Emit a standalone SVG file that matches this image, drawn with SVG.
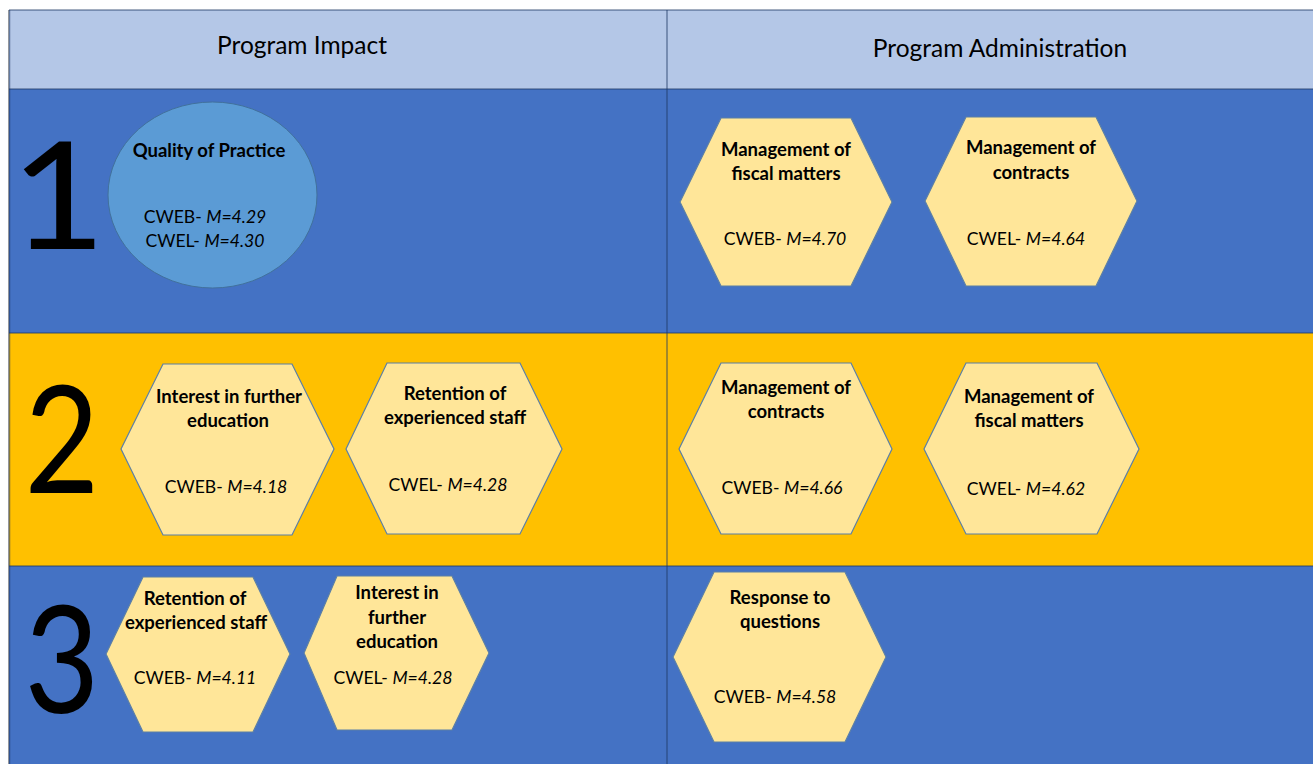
<svg xmlns="http://www.w3.org/2000/svg" width="1313" height="764" viewBox="0 0 1313 764">
<style>
.hdr{font-family:Lato,"Liberation Sans",sans-serif;font-size:24.5px;fill:#000;text-anchor:middle}
.num{font-family:Lato,"Liberation Sans",sans-serif;font-size:150px;fill:#000;text-anchor:middle}
.t{font-family:Lato,"Liberation Sans",sans-serif;font-size:18.5px;font-weight:bold;fill:#000;text-anchor:middle}
.v{font-family:Lato,"Liberation Sans",sans-serif;font-size:17.6px;fill:#000;text-anchor:middle}
.hex{fill:#FFE699;stroke:#5B7FA6;stroke-width:1.2}
.grid{stroke:#1F3864;stroke-opacity:0.55;stroke-width:1.5;fill:none}
</style>
<rect width="1313" height="764" fill="#FFFFFF"/>
<g id="table">
<rect x="9" y="10" width="1304" height="79" fill="#B4C7E7"/>
<rect x="9" y="89" width="1304" height="244" fill="#4472C4"/>
<rect x="9" y="333" width="1304" height="233" fill="#FFC000"/>
<rect x="9" y="566" width="1304" height="198" fill="#4472C4"/>
<line x1="8.5" y1="10" x2="8.5" y2="764" stroke="#A6A6A6" stroke-width="1"/>
<line class="grid" x1="9" y1="10" x2="1313" y2="10"/>
<line class="grid" x1="9.5" y1="10" x2="9.5" y2="764"/>
<line class="grid" x1="9" y1="89" x2="1313" y2="89"/>
<line class="grid" x1="9" y1="333" x2="1313" y2="333"/>
<line class="grid" x1="9" y1="566" x2="1313" y2="566"/>
<line class="grid" x1="667" y1="10" x2="667" y2="764"/>
<text class="hdr" x="302" y="54">Program Impact</text>
<text class="hdr" x="1000" y="57">Program Administration</text>
<text class="num" transform="translate(58,249) scale(1.1,1)">1</text>
<text class="num" transform="translate(62,493) scale(0.86,1)">2</text>
<text class="num" transform="translate(62,713) scale(0.86,1)">3</text>
</g>
<g id="connectors"></g>
<g id="n-quality">
<ellipse cx="212.5" cy="195" rx="104.5" ry="93" fill="#5B9BD5" stroke="#41719C" stroke-width="1"/>
<text class="t" x="209" y="157">Quality of Practice</text>
<text class="v" x="205" y="223">CWEB- <tspan font-style="italic">M=4.29</tspan></text>
<text class="v" x="205" y="247">CWEL- <tspan font-style="italic">M=4.30</tspan></text>
</g>
<g id="n-fiscal1">
<polygon class="hex" points="680,202 721,118 851,118 892,202 851,286 721,286"/>
<text class="t" x="786" y="156">Management of</text>
<text class="t" x="786" y="180">fiscal matters</text>
<text class="v" x="785" y="245">CWEB- <tspan font-style="italic">M=4.70</tspan></text>
</g>
<g id="n-contracts1">
<polygon class="hex" points="925,201 966,117 1096,117 1137,201 1096,286 966,286"/>
<text class="t" x="1031" y="154">Management of</text>
<text class="t" x="1031" y="179">contracts</text>
<text class="v" x="1026" y="245">CWEL- <tspan font-style="italic">M=4.64</tspan></text>
</g>
<g id="n-interest2">
<polygon class="hex" points="121,449 163,364 292,364 334,449 292,535 163,535"/>
<text class="t" x="229" y="403">Interest in further</text>
<text class="t" x="228" y="427">education</text>
<text class="v" x="226" y="493">CWEB- <tspan font-style="italic">M=4.18</tspan></text>
</g>
<g id="n-retention2">
<polygon class="hex" points="346,449 387,363 520,363 562,449 520,534 387,534"/>
<text class="t" x="455" y="400">Retention of</text>
<text class="t" x="455" y="424">experienced staff</text>
<text class="v" x="448" y="491">CWEL- <tspan font-style="italic">M=4.28</tspan></text>
</g>
<g id="n-contracts2">
<polygon class="hex" points="679,449 721,363 851,363 892,449 851,534 721,534"/>
<text class="t" x="786" y="394">Management of</text>
<text class="t" x="786" y="418">contracts</text>
<text class="v" x="782" y="494">CWEB- <tspan font-style="italic">M=4.66</tspan></text>
</g>
<g id="n-fiscal2">
<polygon class="hex" points="924,449 966,363 1097,363 1139,449 1097,534 966,534"/>
<text class="t" x="1029" y="403">Management of</text>
<text class="t" x="1029" y="427">fiscal matters</text>
<text class="v" x="1026" y="495">CWEL- <tspan font-style="italic">M=4.62</tspan></text>
</g>
<g id="n-retention3">
<polygon class="hex" points="106,654 143,577 253,577 290,654 253,732 143,732"/>
<text class="t" x="195" y="605">Retention of</text>
<text class="t" x="196" y="629">experienced staff</text>
<text class="v" x="195" y="684">CWEB- <tspan font-style="italic">M=4.11</tspan></text>
</g>
<g id="n-interest3">
<polygon class="hex" points="304,653 337,576 452,576 489,653 452,730 337,730"/>
<text class="t" x="397" y="599">Interest in</text>
<text class="t" x="397" y="624">further</text>
<text class="t" x="397" y="648">education</text>
<text class="v" x="393" y="684">CWEL- <tspan font-style="italic">M=4.28</tspan></text>
</g>
<g id="n-response">
<polygon class="hex" points="673,657 714,572 845,572 886,657 845,742 714,742"/>
<text class="t" x="780" y="604">Response to</text>
<text class="t" x="780" y="628">questions</text>
<text class="v" x="775" y="703">CWEB- <tspan font-style="italic">M=4.58</tspan></text>
</g>
</svg>
